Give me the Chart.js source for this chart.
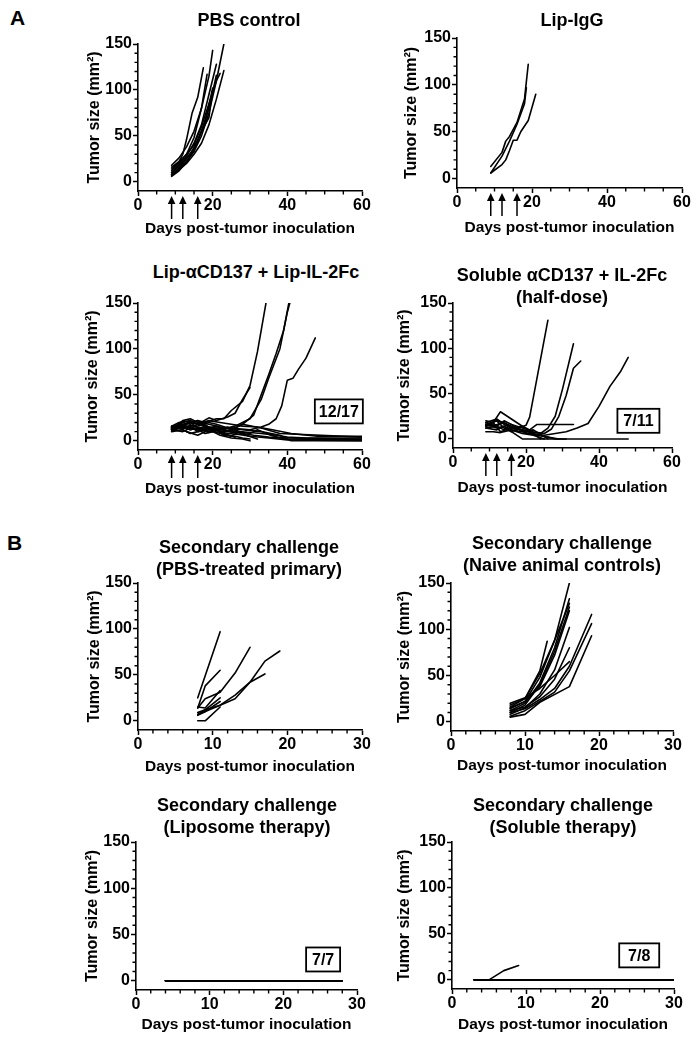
<!DOCTYPE html>
<html><head><meta charset="utf-8">
<script src="https://cdn.jsdelivr.net/npm/chart.js@4/dist/chart.umd.min.js"></script>
<style>
html,body{margin:0;padding:0;background:#fff;}
body{width:699px;height:1044px;position:relative;overflow:hidden;font-family:"Liberation Sans",Arial,sans-serif;color:#000;}
canvas{position:absolute;z-index:1;}
.t{position:absolute;font-weight:bold;font-size:18px;line-height:22px;text-align:center;white-space:nowrap;z-index:2;width:400px;}
.lab{position:absolute;font-weight:bold;font-size:21px;line-height:21px;z-index:2;}
</style></head><body>
<div class="lab" style="left:10px;top:7px">A</div>
<div class="lab" style="left:7px;top:532px">B</div>
<script>
// ---------------- DATA ----------------
const yTickValues = [0, 50, 100, 150];
const xTicksPrimary = [0, 20, 40, 60];
const xTicksSecondary = [0, 10, 20, 30];
const doseDays = [9, 12, 16];
const responderLabels = ['12/17', '7/11', '7/7', '7/8'];
const panelTitles = [
  ['PBS control'],
  ['Lip-IgG'],
  ['Lip-\u03B1CD137 + Lip-IL-2Fc'],
  ['Soluble \u03B1CD137 + IL-2Fc', '(half-dose)'],
  ['Secondary challenge', '(PBS-treated primary)'],
  ['Secondary challenge', '(Naive animal controls)'],
  ['Secondary challenge', '(Liposome therapy)'],
  ['Secondary challenge', '(Soluble therapy)']
];

const pbsDays = [
  [9,11,12,13,14.5,16,17.5],
  [9,11,13,15,17,19,20],
  [9,11,13,15,17,18.5],
  [9,11,13,15,17,19,21],
  [9,11,13,15,17,19,21,23],
  [9,11,13,15,17,19,21,23],
  [9,11,13,15,17,19,21],
  [9,11,13,15,17,19,21,22],
  [9,11,13,15,17,19,20],
  [9,10,12,14,16,18,20]
];
const pbsSizes = [
  [16,22,30,46,75,92,124],
  [18,26,38,55,80,115,143],
  [12,20,30,48,80,117],
  [10,18,28,42,62,95,128],
  [8,15,22,33,50,75,110,150],
  [7,13,20,30,42,62,90,121],
  [10,17,26,36,55,80,116],
  [14,22,30,40,60,85,110,118],
  [6,12,22,34,55,70,100],
  [8,10,20,30,45,65,102]
];

const lipIgGDays = [
  [9,12,13,14,16,18,19],
  [9,12,14,16,18,18.5],
  [9,12,13,14,15,16,17,19,21]
];
const lipIgGSizes = [
  [13,28,40,45,60,85,122],
  [6,24,40,58,80,97],
  [6,15,20,30,41,41,50,62,90]
];

const lipComboDays = [
  [9,12,14,16,18,21,23,25,28,30,32,34.5],
  [9,12,14,16,19,21,24,26,28,30],
  [9,12,14,16,19,21,23,26,28,31,33,35,37,39,40.5],
  [9,12,14,16,19,21,23,26,28,30,33,35,38,40,41],
  [9,12,14,16,19,21,24,27,30,33,35,37,38.5,40,41.5,43,45,47.5],
  [9,12,14,16,19,21,23,26],
  [9,12,14,16,19,21,23,26,28,30],
  [9,12,14,16,19,21,24,28,33,38,41,60],
  [9,12,14,16,19,21,24,28,31,35,40,60],
  [9,12,14,16,19,22,25,28,33,38,60],
  [9,11,13,16,19,22,25,27],
  [9,12,14,16,19,21,24,27,30,35,40,60],
  [9,12,14,16,19,22,25,28,32,36,41,48,60],
  [9,12,14,16,18,20,22,25,28,30],
  [9,12,14,16,19,21,24,27,30,32,35,38,40,60],
  [9,12,14,16,19,21,24,27,30,33,37,40,45,60],
  [9,11,14,16,18,21,23,26,29,32]
];
const lipComboSizes = [
  [15,18,20,22,20,24,24,33,43,60,97,155],
  [12,16,22,18,25,22,26,30,45,58],
  [14,16,13,12,15,14,14,14,18,28,50,72,95,120,152],
  [12,14,17,15,13,12,13,16,20,24,45,68,100,140,155],
  [13,15,12,14,13,12,14,13,12,15,18,24,38,66,68,78,90,112],
  [14,20,18,22,15,12,8,4],
  [12,16,20,14,10,12,6,5,3,2],
  [15,18,14,16,20,18,14,12,10,6,0,0],
  [10,12,8,10,12,14,10,8,6,4,3,2],
  [13,22,24,20,18,15,12,18,14,8,4],
  [16,14,10,6,12,8,5,10],
  [11,15,12,14,9,11,8,7,5,3,1,0],
  [14,17,20,18,22,20,18,16,15,12,8,5,5],
  [12,10,14,12,8,10,6,3,2,0],
  [15,13,16,10,14,12,15,10,8,12,7,3,2,1],
  [13,16,14,18,14,16,11,10,9,8,6,4,3,3],
  [16,20,22,18,16,12,10,12,6,2]
];

const solubleDays = [
  [9,12,14,16,18,20,21,26],
  [9,12,14,16,19,21,24,26,28,30,33],
  [9,12,14,16,19,22,25,27,29,31,33,35],
  [9,12,14,16,19,22,25,28,31,34,37,40,43,46,48],
  [9,11,13,16,19,21,23,26,29,33],
  [9,12,14,16,19,48],
  [9,12,14,16,19,22,25,28,31],
  [9,11,13,16,19,22,25],
  [9,12,14,16,19,22,26],
  [9,12,14,16,18,20,23,26,29],
  [9,11,13,16,19,22,24]
];
const solubleSizes = [
  [15,20,18,14,12,15,24,131],
  [14,16,18,12,10,8,6,12,25,55,105],
  [12,14,10,16,12,8,6,11,25,48,78,86],
  [16,12,14,10,8,5,4,6,8,12,17,36,58,75,90],
  [14,18,30,22,14,10,16,16,16,16],
  [16,20,12,8,0,0],
  [18,22,16,12,10,6,3,0,0],
  [8,8,7,10,6,4,0],
  [18,14,20,16,8,10,0],
  [12,10,14,8,12,6,4,2,0],
  [20,18,8,12,14,6,0]
];

const secPbsDays = [
  [8,11],
  [8,9,11],
  [8,9,11,13,15],
  [8,9,11,13,15,17,19],
  [8,9,11,13,15,17],
  [8,9,11],
  [8,9,11],
  [8,9,11],
  [8,9,11]
];
const secPbsSizes = [
  [25,97],
  [14,38,55],
  [14,24,31,52,80],
  [7,10,17,24,42,65,76],
  [9,12,17,28,42,51],
  [0,0,15],
  [7,12,25],
  [6,10,21],
  [15,14,33]
];

const secNaiveDays = [
  [8,10,12,14,16],
  [8,10,12,14,16],
  [8,10,12,14,16],
  [8,10,12,14,16],
  [8,10,12,14,16],
  [8,10,12,14,16],
  [8,10,12,14,16],
  [8,10,12,13],
  [8,10,12,14,16,19],
  [8,10,12,14,16,19],
  [8,10,12,16,19],
  [8,10,12,14,16]
];
const secNaiveSizes = [
  [15,22,48,88,150],
  [12,20,42,80,133],
  [18,25,52,88,128],
  [10,18,40,76,124],
  [14,22,38,72,120],
  [8,15,30,56,102],
  [12,16,27,46,80],
  [16,25,55,87],
  [10,14,24,36,60,116],
  [6,12,22,32,55,106],
  [5,8,21,38,93],
  [20,26,36,50,65]
];

const secLipDays = [
  [4,7,11,14,18,21,25,28],[4,7,11,14,18,21,25,28],[4,7,11,14,18,21,25,28],
  [4,7,11,14,18,21,25,28],[4,7,11,14,18,21,25,28],[4,7,11,14,18,21,25,28],
  [4,7,11,14,18,21,25,28]
];
const secLipSizes = [
  [0,0,0,0,0,0,0,0],[0,0,0,0,0,0,0,0],[0,0,0,0,0,0,0,0],
  [0,0,0,0,0,0,0,0],[0,0,0,0,0,0,0,0],[0,0,0,0,0,0,0,0],
  [0,0,0,0,0,0,0,0]
];

const secSolDays = [
  [3,5,7,9],
  [3,7,10,14,17,21,24,28,30],[3,7,10,14,17,21,24,28,30],[3,7,10,14,17,21,24,28,30],
  [3,7,10,14,17,21,24,28,30],[3,7,10,14,17,21,24,28,30],[3,7,10,14,17,21,24,28,30],
  [3,7,10,14,17,21,24,28,30]
];
const secSolSizes = [
  [0,0,10,15.5],
  [0,0,0,0,0,0,0,0,0],[0,0,0,0,0,0,0,0,0],[0,0,0,0,0,0,0,0,0],
  [0,0,0,0,0,0,0,0,0],[0,0,0,0,0,0,0,0,0],[0,0,0,0,0,0,0,0,0],
  [0,0,0,0,0,0,0,0,0]
];

// ---------------- LAYOUT (pixels) ----------------
const FONT = '"Liberation Sans", Arial, sans-serif';
const layouts = [
  {xL:138,xR:362,yTop:44,yBot:191,yTitleX:95,xTitleY:229,titleX:249,titleY:20},
  {xL:457,xR:682,yTop:38,yBot:188,yTitleX:412,xTitleY:228,titleX:572,titleY:20},
  {xL:138,xR:362,yTop:303,yBot:450,yTitleX:93,xTitleY:489,titleX:256,titleY:272},
  {xL:453,xR:672,yTop:303,yBot:448,yTitleX:405,xTitleY:488,titleX:562,titleY:275},
  {xL:138,xR:362,yTop:583,yBot:730,yTitleX:95,xTitleY:767,titleX:249,titleY:547},
  {xL:451,xR:673,yTop:583,yBot:731,yTitleX:405,xTitleY:766,titleX:562,titleY:543},
  {xL:136,xR:357,yTop:842,yBot:990,yTitleX:93,xTitleY:1025,titleX:247,titleY:805},
  {xL:452,xR:674,yTop:842,yBot:989,yTitleX:405,xTitleY:1025,titleX:563,titleY:805}
];

const panels = [
  {days:pbsDays, sizes:pbsSizes, xTicks:xTicksPrimary, xMinor:5, arrows:true},
  {days:lipIgGDays, sizes:lipIgGSizes, xTicks:xTicksPrimary, xMinor:5, arrows:true},
  {days:lipComboDays, sizes:lipComboSizes, xTicks:xTicksPrimary, xMinor:5, arrows:true,
   label:{text:responderLabels[0], x:53.8, y:32, w:48}},
  {days:solubleDays, sizes:solubleSizes, xTicks:xTicksPrimary, xMinor:5, arrows:true,
   label:{text:responderLabels[1], x:50.8, y:20, w:42}},
  {days:secPbsDays, sizes:secPbsSizes, xTicks:xTicksSecondary, xMinor:2, arrows:false},
  {days:secNaiveDays, sizes:secNaiveSizes, xTicks:xTicksSecondary, xMinor:2, arrows:false},
  {days:secLipDays, sizes:secLipSizes, xTicks:xTicksSecondary, xMinor:2, arrows:false,
   label:{text:responderLabels[2], x:25.4, y:23, w:34}},
  {days:secSolDays, sizes:secSolSizes, xTicks:xTicksSecondary, xMinor:2, arrows:false,
   label:{text:responderLabels[3], x:25.3, y:26.6, w:40}}
];

function makeExtras(p) {
  return {
    id: 'panelExtras',
    afterDraw(chart) {
      const ctx = chart.ctx, a = chart.chartArea;
      const xs = chart.scales.x, ys = chart.scales.y;
      ctx.save();
      ctx.strokeStyle = '#000'; ctx.fillStyle = '#000'; ctx.lineWidth = 1.4;
      ctx.beginPath();
      const xMax = p.xTicks[p.xTicks.length - 1];
      for (let v = 0; v <= xMax + 1e-6; v += p.xMinor) {
        if (p.xTicks.includes(v)) continue;
        const px = xs.getPixelForValue(v);
        ctx.moveTo(px, a.bottom); ctx.lineTo(px, a.bottom + 3.5);
      }
      for (let v = 0; v <= 150; v += 10) {
        if (yTickValues.includes(v)) continue;
        const py = ys.getPixelForValue(v);
        ctx.moveTo(a.left - 3.5, py); ctx.lineTo(a.left, py);
      }
      ctx.stroke();
      if (p.arrows) {
        doseDays.forEach(d => {
          const px = xs.getPixelForValue(d);
          const tip = a.bottom + 5;
          ctx.beginPath();
          ctx.lineWidth = 1.5;
          ctx.moveTo(px, tip + 5); ctx.lineTo(px, tip + 23);
          ctx.stroke();
          ctx.beginPath();
          ctx.moveTo(px, tip); ctx.lineTo(px - 3.8, tip + 8); ctx.lineTo(px + 3.8, tip + 8);
          ctx.closePath(); ctx.fill();
        });
      }
      if (p.label) {
        const px = xs.getPixelForValue(p.label.x);
        const py = ys.getPixelForValue(p.label.y);
        ctx.fillStyle = '#fff';
        ctx.fillRect(px - p.label.w / 2, py - 12, p.label.w, 24);
        ctx.lineWidth = 1.8;
        ctx.strokeRect(px - p.label.w / 2, py - 12, p.label.w, 24);
        ctx.fillStyle = '#000';
        ctx.font = 'bold 16px ' + FONT;
        ctx.textAlign = 'center'; ctx.textBaseline = 'middle';
        ctx.fillText(p.label.text, px, py + 1);
      }
      ctx.restore();
    }
  };
}

panels.forEach((p, i) => {
  const g = layouts[i];
  const L = g.xL - 60, T = g.yTop - 12;
  const W = g.xR - L + 14;
  const H = Math.round(g.xTitleY + 10.3 - T);
  const XH = T + H - g.yBot;
  const yTitlePad = g.yTitleX - L - 9.6;
  const xTitlePad = T + H - g.xTitleY - 9.3;

  const cv = document.createElement('canvas');
  cv.width = W; cv.height = H;
  cv.style.left = L + 'px'; cv.style.top = T + 'px';
  cv.style.width = W + 'px'; cv.style.height = H + 'px';
  document.body.appendChild(cv);

  const tdiv = document.createElement('div');
  tdiv.className = 't';
  tdiv.style.left = (g.titleX - 200) + 'px';
  tdiv.style.top = (g.titleY - 11) + 'px';
  tdiv.innerHTML = panelTitles[i].join('<br>');
  document.body.appendChild(tdiv);

  const tickFont = {family: FONT, size: 16, weight: 'bold'};
  new Chart(cv, {
    type: 'line',
    data: {
      datasets: p.days.map((d, k) => ({
        data: d.map((x, j) => ({x: x, y: p.sizes[k][j]})),
        borderColor: '#000', borderWidth: 1.6, pointRadius: 0, tension: 0,
        fill: false, borderJoinStyle: 'round', borderCapStyle: 'round'
      }))
    },
    options: {
      responsive: false, animation: false, devicePixelRatio: 1, events: [],
      layout: {padding: {left: 0, top: 12, right: 14, bottom: 0}},
      plugins: {legend: {display: false}, tooltip: {enabled: false}, title: {display: false}},
      scales: {
        x: {
          type: 'linear', min: 0, max: p.xTicks[p.xTicks.length - 1],
          afterBuildTicks: s => { s.ticks = p.xTicks.map(v => ({value: v})); },
          afterFit: s => { s.height = XH; s.paddingLeft = 0; s.paddingRight = 0; },
          ticks: {font: tickFont, color: '#000', padding: 0, maxRotation: 0, autoSkip: false},
          grid: {display: true, drawOnChartArea: false, drawTicks: true, tickLength: 5, tickColor: '#000', tickWidth: 1.5},
          border: {display: true, color: '#000', width: 1.6},
          title: {display: true, text: 'Days post-tumor inoculation',
                  font: {family: FONT, size: 15.5, weight: 'bold'}, color: '#000',
                  padding: {top: 0, bottom: xTitlePad}}
        },
        y: {
          type: 'linear', min: -10, max: 150,
          afterBuildTicks: s => { s.ticks = yTickValues.map(v => ({value: v})); },
          afterFit: s => { s.width = 60; s.paddingTop = 0; s.paddingBottom = 0; },
          ticks: {font: tickFont, color: '#000', padding: 1},
          grid: {display: true, drawOnChartArea: false, drawTicks: true, tickLength: 5, tickColor: '#000', tickWidth: 1.5},
          border: {display: true, color: '#000', width: 1.6},
          title: {display: true, text: 'Tumor size (mm\u00B2)',
                  font: {family: FONT, size: 16, weight: 'bold'}, color: '#000',
                  padding: {top: yTitlePad, bottom: 0}}
        }
      }
    },
    plugins: [makeExtras(p)]
  });
});
</script>
</body></html>
